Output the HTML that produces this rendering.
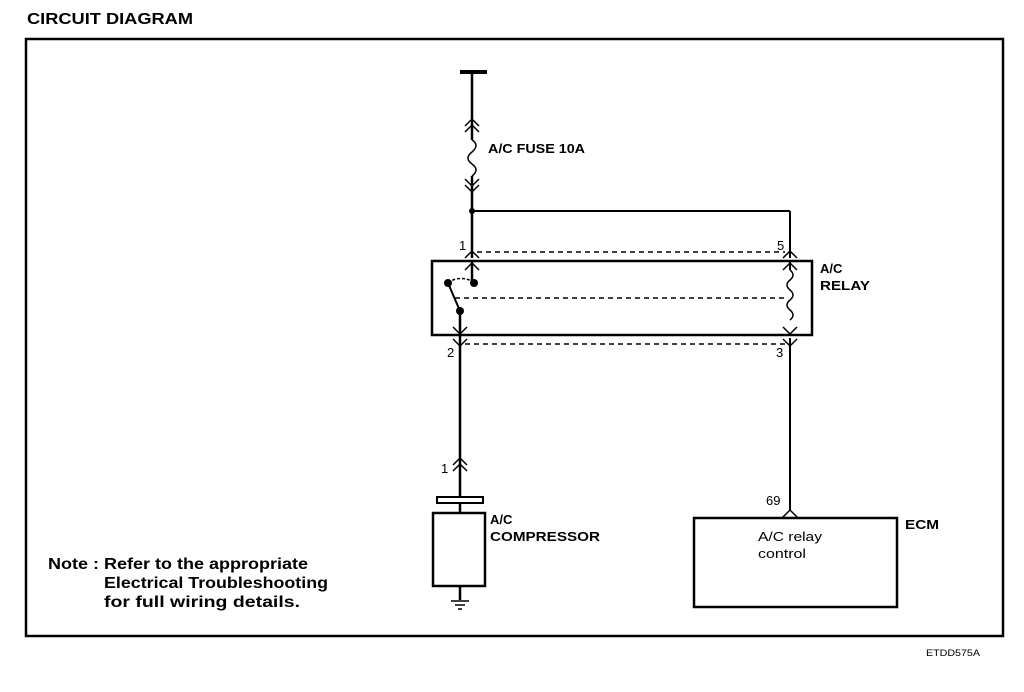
<!DOCTYPE html>
<html><head><meta charset="utf-8"><style>
body{margin:0;background:#fff;}
svg{display:block;font-family:"Liberation Sans",Arial,sans-serif;font-weight:bold;}
</style></head><body>
<svg width="1024" height="692" viewBox="0 0 1024 692" xmlns="http://www.w3.org/2000/svg">
<text x="27" y="24" font-size="16" fill="#000" textLength="166" lengthAdjust="spacingAndGlyphs">CIRCUIT  DIAGRAM</text>
<rect x="26" y="39" width="977" height="597" fill="none" stroke="#000" stroke-width="2.5"/>
<g stroke="#000" fill="none" stroke-width="2.5">
<line x1="460" y1="72" x2="487" y2="72" stroke-width="4"/>
<line x1="472" y1="72" x2="472" y2="140"/>
<path d="M472 140 q8 5 0 12 q-8 6 0 12 q8 6 0 12" stroke-width="1.5"/>
<line x1="472" y1="176" x2="472" y2="258"/>
<line x1="472" y1="211" x2="790" y2="211" stroke-width="2"/>
<line x1="790" y1="211" x2="790" y2="258" stroke-width="2"/>
<rect x="432" y="261" width="380" height="74" stroke-width="2.5"/>
<line x1="472" y1="262" x2="472" y2="283"/>
<line x1="448" y1="283" x2="460" y2="311" stroke-width="2"/>
<path d="M448 283 q10 -8 24 -2" stroke-width="1.5" stroke-dasharray="3,2"/>
<line x1="460" y1="311" x2="460" y2="498"/>
<line x1="790" y1="262" x2="790" y2="270" stroke-width="2"/>
<path d="M790 270 q6 5 0 10 q-6 5 0 10 q6 5 0 10 q-6 5 0 10 q6 5 0 10" stroke-width="1.5"/>
<line x1="790" y1="338" x2="790" y2="510" stroke-width="2"/>
<line x1="460" y1="586" x2="460" y2="600"/>
<line x1="460" y1="503" x2="460" y2="513"/>
<rect x="437" y="497" width="46" height="6" stroke-width="2"/>
<rect x="433" y="513" width="52" height="73" stroke-width="2.5"/>
<line x1="451" y1="601" x2="469" y2="601" stroke-width="1.5"/>
<line x1="455" y1="605" x2="465" y2="605" stroke-width="1.5"/>
<line x1="458" y1="609" x2="462" y2="609" stroke-width="1.5"/>
<rect x="694" y="518" width="203" height="89" stroke-width="2.5"/>
<path d="M782 518 L790 510 L798 518" stroke-width="1.5"/>
</g>
<g stroke="#000" fill="none" stroke-width="1.5">
<path d="M465 126 l7 -7 l7 7 M465 132 l7 -7 l7 7"/>
<path d="M465 179 l7 7 l7 -7 M465 185 l7 7 l7 -7"/>
<path d="M465 258 l7 -7 l7 7 M465 270 l7 -7 l7 7"/>
<path d="M783 258 l7 -7 l7 7 M783 270 l7 -7 l7 7"/>
<path d="M453 327 l7 7 l7 -7 M453 339 l7 7 l7 -7"/>
<path d="M783 327 l7 7 l7 -7 M783 339 l7 7 l7 -7"/>
<path d="M453 465 l7 -7 l7 7 M453 471 l7 -7 l7 7"/>
</g>
<g stroke="#000" stroke-width="1.5" stroke-dasharray="5,4">
<line x1="477" y1="252" x2="785" y2="252"/>
<line x1="455" y1="298" x2="785" y2="298"/>
<line x1="465" y1="344" x2="785" y2="344"/>
</g>
<circle cx="472" cy="211" r="3" fill="#000"/>
<circle cx="448" cy="283" r="4" fill="#000"/>
<circle cx="474" cy="283" r="4" fill="#000"/>
<circle cx="460" cy="311" r="4" fill="#000"/>
<g font-size="13" fill="#000" lengthAdjust="spacingAndGlyphs">
<text x="488" y="153" textLength="97" lengthAdjust="spacingAndGlyphs">A/C FUSE 10A</text>
<text x="820" y="273">A/C</text>
<text x="820" y="290" textLength="50" lengthAdjust="spacingAndGlyphs">RELAY</text>
<text x="490" y="524">A/C</text>
<text x="490" y="541" textLength="110" lengthAdjust="spacingAndGlyphs">COMPRESSOR</text>
<text x="905" y="529" textLength="34" lengthAdjust="spacingAndGlyphs">ECM</text>
</g>
<g font-size="13" font-weight="normal" fill="#000">
<text x="459" y="250">1</text>
<text x="777" y="250">5</text>
<text x="447" y="357">2</text>
<text x="776" y="357">3</text>
<text x="441" y="473">1</text>
<text x="766" y="505">69</text>
<text x="758" y="541" textLength="64" lengthAdjust="spacingAndGlyphs">A/C relay</text>
<text x="758" y="558" textLength="48" lengthAdjust="spacingAndGlyphs">control</text>
</g>
<g font-size="16" fill="#000">
<text x="48" y="569" textLength="260" lengthAdjust="spacingAndGlyphs">Note : Refer to the appropriate</text>
<text x="104" y="588" textLength="224" lengthAdjust="spacingAndGlyphs">Electrical Troubleshooting</text>
<text x="104" y="607" textLength="196" lengthAdjust="spacingAndGlyphs">for full wiring details.</text>
</g>
<text x="926" y="656" font-size="9" font-weight="normal" fill="#000" textLength="54" lengthAdjust="spacingAndGlyphs">ETDD575A</text>
</svg>
</body></html>
